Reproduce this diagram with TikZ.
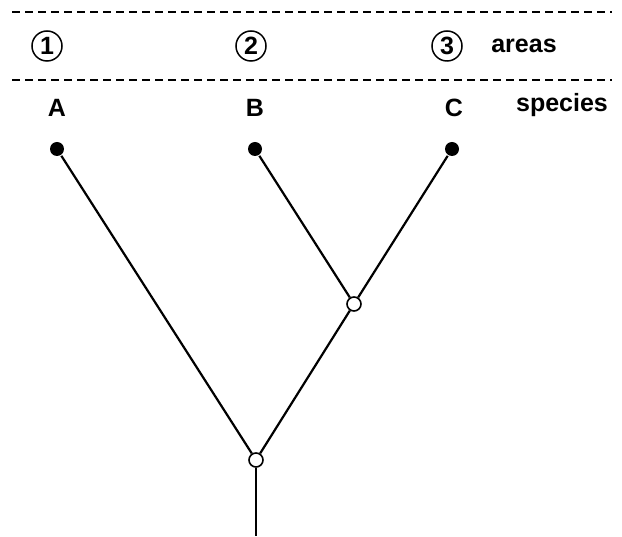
\documentclass[tikz,border=0pt]{standalone}
\usepackage{fontspec}
\setmainfont{Liberation Sans}
\begin{document}
\begin{tikzpicture}[x=1pt, y=-1pt, line width=2.2pt,
    every node/.style={font=\fontsize{25}{30}\selectfont\bfseries},
    area/.style={circle, draw, line width=1.5pt, inner sep=0pt, minimum size=30pt},
    leaf/.style={circle, fill=black, inner sep=0pt, minimum size=14pt},
    split/.style={circle, draw, fill=white, line width=1.6pt, inner sep=0pt, minimum size=14pt},
    sep/.style={dashed, line width=1.2pt, dash pattern=on 8pt off 5pt}]
            \useasboundingbox (0,0) rectangle (622,537);
            \draw[sep] (12,12) -- (612,12);
            \draw[sep] (12,80) -- (612,80);

            \node[area] (a1) at (47,46) {1};
            \node[area] (a2) at (251,46) {2};
            \node[area] (a3) at (447,46) {3};
            \node (areas) at (524,46) {areas};

            \node (sA) at (57,108) {A};
            \node (sB) at (255,108) {B};
            \node (sC) at (454,108) {C};
            \node (species) at (562,105) {species};

            \node[leaf] (lA) at (57,149) {};
            \node[leaf] (lB) at (255,149) {};
            \node[leaf] (lC) at (452,149) {};
            \node[split] (bc) at (354,304) {};
            \node[split] (root) at (256,460) {};
            \coordinate (stem) at (256,536);

            \draw (lA) -- (root);
            \draw (lB) -- (bc);
            \draw (lC) -- (bc);
            \draw (bc) -- (root);
            \draw (root) -- (stem);
        \end{tikzpicture}
\end{document}
